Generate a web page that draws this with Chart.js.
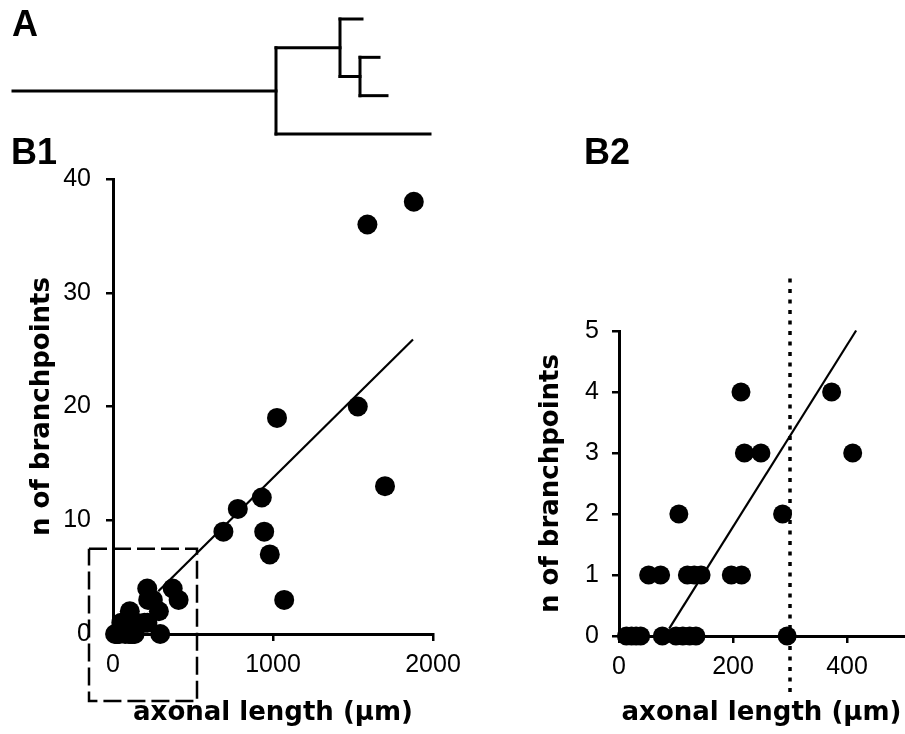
<!DOCTYPE html>
<html>
<head>
<meta charset="utf-8">
<script src="https://cdn.jsdelivr.net/npm/chart.js@4.4.1/dist/chart.umd.min.js"></script>
<style>
  html, body { margin: 0; padding: 0; background: #fff; }
  body { width: 905px; height: 734px; position: relative; overflow: hidden; }
  canvas { position: absolute; left: 0; top: 0; }
  .panel { position: absolute; font: bold 36px 'Liberation Sans', Arial, sans-serif; line-height: 1; color: #000; }
</style>
</head>
<body>
<canvas id="treeChart" width="905" height="734"></canvas>
<canvas id="allChart" width="905" height="734"></canvas>
<!-- a bit wider than the window: Chart.js keeps a point-radius margin on the right -->
<canvas id="zoomChart" width="925" height="734"></canvas>
<div class="panel" style="left:12px;top:6px">A</div>
<div class="panel" style="left:11px;top:134px">B1</div>
<div class="panel" style="left:584px;top:134px">B2</div>
<script>
// one entry per neuron: axonal length (µm) and number of branchpoints
const axonLength = [13, 22, 30, 38, 76, 100, 112, 124, 135, 295,
                    52, 73, 120, 132, 144, 197, 215,
                    105, 287,
                    220, 249, 410,
                    214, 373,
                    690, 780, 930, 945, 980, 1025, 1070, 1530, 1590, 1700, 1880];
const branchpoints = [0, 0, 0, 0, 0, 0, 0, 0, 0, 0,
                      1, 1, 1, 1, 1, 1, 1,
                      2, 2,
                      3, 3, 3,
                      4, 4,
                      9, 11, 12, 9, 7, 19, 3, 20, 36, 13, 38];

// regression lines (slope, intercept, x range)
const fitAllSlope = 0.0139;
const fitAllIntercept = -0.18;
const fitAllRange = [283, 1875];
const fitZoomSlope = 0.0149;
const fitZoomIntercept = -1.19;
const fitZoomRange = [88, 416];

// dashed box in B1 marking the region shown in B2
const zoomBoxX = [-150, 525];
const zoomBoxY = [-5.9, 7.5];

// dotted cutoff in B2
const cutoffX = 300;
const cutoffY = [-0.92, 5.87];

// tree in panel A: branch lengths and parent branch (-1 = stem)
const branchLength = [263, 64, 154, 22, 20, 19, 27];
const branchParent = [-1, 0, 0, 1, 1, 4, 4];

Chart.defaults.font.family = "'Liberation Sans', Arial, sans-serif";
Chart.defaults.font.size = 25;
Chart.defaults.color = '#000';
Chart.defaults.animation = false;

function treeSegments() {
    const endX = [];
    const posY = [];
    const children = branchLength.map(() => []);
    branchParent.forEach((p, i) => { if (p >= 0) children[p].push(i); });
    let leaf = 0;
    function walk(i, startX) {
        endX[i] = startX + branchLength[i];
        if (children[i].length === 0) {
            posY[i] = leaf++;
        } else {
            children[i].forEach(c => walk(c, endX[i]));
            const ys = children[i].map(c => posY[c]);
            posY[i] = (Math.min(...ys) + Math.max(...ys)) / 2;
        }
    }
    walk(0, 0);

    const segs = [];
    branchLength.forEach((len, i) => {
        const startX = branchParent[i] < 0 ? 0 : endX[branchParent[i]];
        segs.push([{ x: startX, y: posY[i] }, { x: endX[i], y: posY[i] }]);
        if (children[i].length) {
            const ys = children[i].map(c => posY[c]);
            segs.push([{ x: endX[i], y: Math.min(...ys) }, { x: endX[i], y: Math.max(...ys) }]);
        }
    });
    return segs;
}

function lineSet(points, width, dash) {
    return {
        data: points,
        showLine: true,
        borderColor: '#000',
        borderWidth: width,
        borderDash: dash || [],
        borderCapStyle: 'butt',
        pointRadius: 0,
        pointHoverRadius: 0,
        clip: false
    };
}

function pointSet(points, radius) {
    return {
        data: points,
        pointRadius: radius,
        pointHoverRadius: radius,
        pointBackgroundColor: '#000',
        pointBorderWidth: 0,
        showLine: false,
        clip: false
    };
}

function fitPoints(slope, intercept, range) {
    return range.map(x => ({ x: x, y: slope * x + intercept }));
}

function linearAxis(min, max, step, title, tickPadding, boxSize, horizontal) {
    return {
        type: 'linear',
        min: min,
        max: max,
        ticks: {
            stepSize: step,
            padding: tickPadding,
            autoSkip: false,
            includeBounds: false,
            maxRotation: 0,
            color: '#000',
            font: { size: 25 },
            callback: (value) => String(value)
        },
        grid: { drawOnChartArea: false, drawTicks: true, tickLength: 7, color: '#000', lineWidth: 2.5 },
        border: { display: true, color: '#000', width: 3 },
        title: {
            display: true,
            text: title,
            color: '#000',
            padding: 0,
            font: { family: "'DejaVu Sans', sans-serif", size: 26, weight: 'bold' }
        },
        afterFit: (scale) => {
            if (horizontal) scale.height = boxSize;
            else scale.width = boxSize;
            scale.paddingLeft = 0;
            scale.paddingRight = 0;
            scale.paddingTop = 0;
            scale.paddingBottom = 0;
        }
    };
}

const quiet = { legend: { display: false }, tooltip: { enabled: false } };

// panel A: schematic axon tree
new Chart(document.getElementById('treeChart'), {
    type: 'scatter',
    data: {
        datasets: treeSegments().map(s => Object.assign(lineSet(s, 3), { borderCapStyle: 'square' }))
    },
    options: {
        responsive: false,
        devicePixelRatio: 1,
        layout: { padding: { left: 13, right: 475, top: 19, bottom: 600 } },
        scales: {
            x: { type: 'linear', display: false, min: 0, max: 417 },
            y: { type: 'linear', display: false, min: 0, max: 3, reverse: true }
        },
        plugins: quiet
    }
});

// panel B1: all neurons
const allPoints = axonLength.map((x, i) => ({ x: x, y: branchpoints[i] }));
const box = [
    { x: zoomBoxX[0], y: zoomBoxY[1] }, { x: zoomBoxX[1], y: zoomBoxY[1] },
    { x: zoomBoxX[1], y: zoomBoxY[0] }, { x: zoomBoxX[0], y: zoomBoxY[0] },
    { x: zoomBoxX[0], y: zoomBoxY[1] }
];

new Chart(document.getElementById('allChart'), {
    type: 'scatter',
    data: {
        datasets: [
            pointSet(allPoints, 10),
            lineSet(fitPoints(fitAllSlope, fitAllIntercept, fitAllRange), 2.2),
            lineSet(box, 2.5, [18, 6])
        ]
    },
    options: {
        responsive: false,
        devicePixelRatio: 1,
        layout: { padding: { left: 26.4, right: 472, top: 179, bottom: 5.4 } },
        scales: {
            x: linearAxis(0, 2000, 1000, 'axonal length (µm)', 9, 94.6, true),
            y: linearAxis(0, 40, 10, 'n of branchpoints', 15, 86.6, false)
        },
        plugins: quiet
    }
});

// panel B2: short axons only
const zoomPoints = allPoints.filter(p => p.x <= 500 && p.y <= 5);
const zoomX = linearAxis(0, 500, 200, 'axonal length (µm)', 9, 92.6, true);
zoomX.afterBuildTicks = (scale) => {
    scale.ticks = scale.ticks.filter(t => t.value % 200 === 0);
};

new Chart(document.getElementById('zoomChart'), {
    type: 'scatter',
    data: {
        datasets: [
            pointSet(zoomPoints, 9.5),
            lineSet(fitPoints(fitZoomSlope, fitZoomIntercept, fitZoomRange), 2.2),
            lineSet(cutoffY.map(y => ({ x: cutoffX, y: y })), 3.5, [4, 6.5])
        ]
    },
    options: {
        responsive: false,
        devicePixelRatio: 1,
        layout: { padding: { left: 536.1, right: 21, top: 331, bottom: 5.4 } },
        scales: {
            x: zoomX,
            y: linearAxis(0, 5, 1, 'n of branchpoints', 13, 82.9, false)
        },
        plugins: quiet
    }
});
</script>
</body>
</html>
